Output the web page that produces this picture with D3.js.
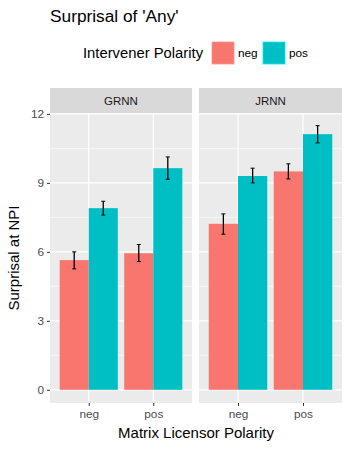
<!DOCTYPE html>
<html>
<head>
<meta charset="utf-8">
<script src="https://cdn.jsdelivr.net/npm/d3@7"></script>
<style>
  body { margin: 0; background: #fff; }
  text { font-family: "Liberation Sans", Arial, sans-serif; }
</style>
</head>
<body>
<script>
const models = ["GRNN", "JRNN"];
const licensor = ["neg", "pos"];
const intervener = ["neg", "pos"];
const colors = ["#F8766D", "#00BFC4"];
const yTicks = [0, 3, 6, 9, 12];

// rows: model, licensor, intervener, mean, lower, upper
const means = [5.64, 7.9, 5.94, 9.64, 7.22, 9.3, 9.5, 11.12];
const lowers = [5.26, 7.6, 5.58, 9.16, 6.77, 9.0, 9.17, 10.74];
const uppers = [6.0, 8.2, 6.32, 10.13, 7.65, 9.64, 9.83, 11.49];

const rows = [];
let k = 0;
models.forEach(m => licensor.forEach(l => intervener.forEach(v => {
  rows.push({model: m, lic: l, int: v, mean: means[k], lo: lowers[k], hi: uppers[k]});
  k++;
})));

const svg = d3.select("body").append("svg")
  .attr("width", 349)
  .attr("height", 449);

const panelTop = 113, panelBottom = 403, stripH = 25;
const panels = [{name: "GRNN", x0: 50, x1: 192}, {name: "JRNN", x0: 199, x1: 342}];

const y = d3.scaleLinear().domain([-0.575, 12.04]).range([panelBottom, panelTop]);

// title
svg.append("text").attr("x", 50).attr("y", 22)
  .attr("font-size", 17.3).attr("fill", "#000").text("Surprisal of 'Any'");

// legend
svg.append("text").attr("x", 83).attr("y", 58)
  .attr("font-size", 14.8).attr("fill", "#000").text("Intervener Polarity");
const legX = [212, 263];
intervener.forEach((v, i) => {
  svg.append("rect").attr("x", legX[i]).attr("y", 42).attr("width", 22).attr("height", 22)
    .attr("fill", colors[i]).attr("stroke", d3.color(colors[i]).brighter(0.6)).attr("stroke-width", 0.8);
  svg.append("text").attr("x", legX[i] + 26).attr("y", 57)
    .attr("font-size", 11.8).attr("fill", "#000").text(v);
});

panels.forEach(p => {
  const g = svg.append("g");
  const x = d3.scalePoint().domain(licensor).range([p.x0, p.x1]).padding(0.6);
  const bw = x.step() * 0.45;
  const xs = d3.scaleBand().domain(intervener).range([-bw, bw]);

  g.append("rect").attr("x", p.x0).attr("y", panelTop - stripH).attr("width", p.x1 - p.x0).attr("height", stripH)
    .attr("fill", "#D9D9D9");
  g.append("text").attr("x", (p.x0 + p.x1) / 2).attr("y", panelTop - stripH / 2 + 4)
    .attr("text-anchor", "middle").attr("font-size", 11.5).attr("fill", "#1A1A1A").text(p.name);

  g.append("rect").attr("x", p.x0).attr("y", panelTop).attr("width", p.x1 - p.x0).attr("height", panelBottom - panelTop)
    .attr("fill", "#EBEBEB");

  // minor grid
  const minor = [1.5, 4.5, 7.5, 10.5];
  g.selectAll(".minor").data(minor).enter().append("line")
    .attr("x1", p.x0).attr("x2", p.x1)
    .attr("y1", d => y(d)).attr("y2", d => y(d))
    .attr("stroke", "#fff").attr("stroke-width", 0.6);
  g.selectAll(".major").data(yTicks).enter().append("line")
    .attr("x1", p.x0).attr("x2", p.x1)
    .attr("y1", d => y(d)).attr("y2", d => y(d))
    .attr("stroke", "#fff").attr("stroke-width", 1.2);
  g.selectAll(".vmajor").data(licensor).enter().append("line")
    .attr("x1", d => x(d)).attr("x2", d => x(d))
    .attr("y1", panelTop).attr("y2", panelBottom)
    .attr("stroke", "#fff").attr("stroke-width", 1.2);

  const data = rows.filter(r => r.model === p.name);
  g.selectAll(".bar").data(data).enter().append("rect")
    .attr("x", d => x(d.lic) + xs(d.int))
    .attr("width", xs.bandwidth())
    .attr("y", d => y(d.mean))
    .attr("height", d => y(0) - y(d.mean))
    .attr("fill", d => colors[intervener.indexOf(d.int)]);

  const eb = g.selectAll(".eb").data(data).enter().append("g");
  const cx = d => x(d.lic) + xs(d.int) + xs.bandwidth() / 2;
  eb.append("line").attr("x1", cx).attr("x2", cx)
    .attr("y1", d => y(d.lo)).attr("y2", d => y(d.hi))
    .attr("stroke", "#000").attr("stroke-width", 1.3);
  eb.append("line").attr("x1", d => cx(d) - 2).attr("x2", d => cx(d) + 2)
    .attr("y1", d => y(d.lo)).attr("y2", d => y(d.lo))
    .attr("stroke", "#000").attr("stroke-width", 1);
  eb.append("line").attr("x1", d => cx(d) - 2).attr("x2", d => cx(d) + 2)
    .attr("y1", d => y(d.hi)).attr("y2", d => y(d.hi))
    .attr("stroke", "#000").attr("stroke-width", 1);

  // x axis
  const xa = g.append("g").attr("transform", `translate(0,${panelBottom})`)
    .call(d3.axisBottom(x).tickSize(3).tickPadding(4));
  xa.select(".domain").remove();
  xa.selectAll("line").attr("stroke", "#333").attr("stroke-width", 1);
  xa.selectAll("text").attr("font-size", 11.8).attr("fill", "#4D4D4D")
    .style("font-family", "'Liberation Sans', Arial, sans-serif");
});

// y axis
const ya = svg.append("g").attr("transform", `translate(${panels[0].x0},0)`)
  .call(d3.axisLeft(y).tickValues(yTicks).tickSize(3).tickPadding(3));
ya.select(".domain").remove();
ya.selectAll("line").attr("stroke", "#333").attr("stroke-width", 1);
ya.selectAll("text").attr("font-size", 11.8).attr("fill", "#4D4D4D")
  .style("font-family", "'Liberation Sans', Arial, sans-serif");

// axis titles
svg.append("text").attr("x", (panels[0].x0 + panels[1].x1) / 2).attr("y", 438)
  .attr("text-anchor", "middle").attr("font-size", 15).attr("fill", "#000").text("Matrix Licensor Polarity");
svg.append("text").attr("transform", `translate(19,${(panelTop + panelBottom) / 2}) rotate(-90)`)
  .attr("text-anchor", "middle").attr("font-size", 15).attr("fill", "#000").text("Surprisal at NPI");
</script>
</body>
</html>
